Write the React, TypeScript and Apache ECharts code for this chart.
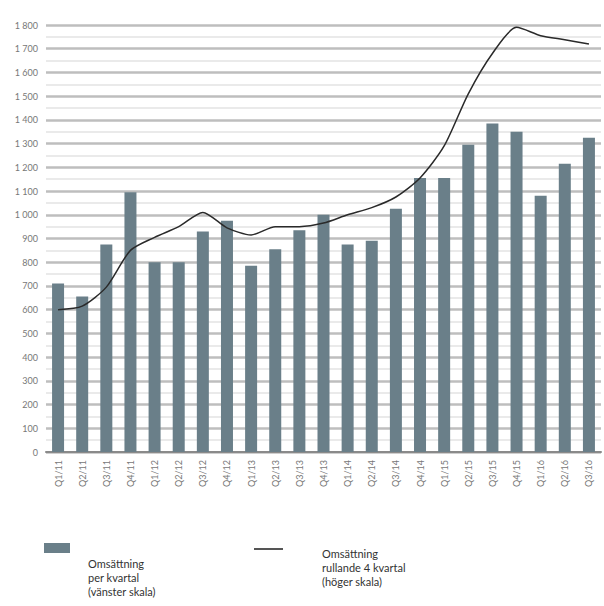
import React, { useEffect, useRef } from "react";
import * as echarts from "echarts";

const categories = [
  "Q1/11", "Q2/11", "Q3/11", "Q4/11",
  "Q1/12", "Q2/12", "Q3/12", "Q4/12",
  "Q1/13", "Q2/13", "Q3/13", "Q4/13",
  "Q1/14", "Q2/14", "Q3/14", "Q4/14",
  "Q1/15", "Q2/15", "Q3/15", "Q4/15",
  "Q1/16", "Q2/16", "Q3/16",
];

const quarterly = [
  710, 655, 875, 1095,
  800, 800, 930, 975,
  785, 855, 935, 1000,
  875, 890, 1025, 1155,
  1155, 1295, 1385, 1350,
  1080, 1215, 1325,
];

const rolling = [
  600, 615, 695, 850,
  905, 950, 1010, 945,
  915, 950, 950, 965,
  1000, 1030, 1075, 1155,
  1290, 1510, 1680, 1790,
  1755, 1738, 1720,
];

const barLegend = ["Omsättning", "per kvartal", "(vänster skala)"];
const lineLegend = ["Omsättning", "rullande 4 kvartal", "(höger skala)"];

const fmt = (v: number) => {
  if (v >= 1000) {
    const s = String(v);
    return s.slice(0, s.length - 3) + " " + s.slice(s.length - 3);
  }
  return String(v);
};

export default function App() {
  const ref = useRef<HTMLDivElement>(null);
  useEffect(() => {
    document.body.style.margin = "0";
    if (!ref.current) return;
    const chart = echarts.init(ref.current, null, { renderer: "svg" });
    const font = "Lato, 'DejaVu Sans', sans-serif";
    chart.setOption({
      animation: false,
      backgroundColor: "#ffffff",
      grid: { left: 46, right: 3, top: 25, bottom: 154, containLabel: false },
      xAxis: {
        type: "category",
        data: categories,
        boundaryGap: true,
        axisLine: { show: true, lineStyle: { color: "#8a8a8a", width: 2 } },
        axisTick: { show: false },
        axisLabel: {
          rotate: 90,
          margin: 8,
          fontSize: 9,
          color: "#777777",
          fontFamily: font,
          interval: 0,
        },
      },
      yAxis: [
        {
          type: "value",
          min: 0,
          max: 1800,
          interval: 100,
          axisLine: { show: false },
          axisTick: { show: false },
          axisLabel: {
            fontSize: 9,
            color: "#777777",
            fontFamily: font,
            margin: 8,
            formatter: (v: number) => fmt(v),
          },
          splitLine: { show: true, lineStyle: { color: "#bebebe", width: 2.5 } },
          minorTick: { show: false, splitNumber: 2 },
          minorSplitLine: { show: true, lineStyle: { color: "#eaeaea", width: 2 } },
        },
        {
          type: "value",
          min: 0,
          max: 1800,
          interval: 100,
          show: false,
          splitLine: { show: false },
        },
      ],
      series: [
        {
          name: "Omsättning per kvartal (vänster skala)",
          type: "bar",
          data: quarterly,
          yAxisIndex: 0,
          barWidth: 12,
          itemStyle: { color: "#6a7f89" },
        },
        {
          name: "Omsättning rullande 4 kvartal (höger skala)",
          type: "line",
          data: rolling,
          yAxisIndex: 1,
          smooth: 0.25,
          showSymbol: false,
          symbol: "none",
          lineStyle: { color: "#2a2a2a", width: 1.5 },
          z: 5,
        },
      ],
      graphic: [
        { type: "rect", shape: { x: 44, y: 543, width: 26, height: 10 }, style: { fill: "#6a7f89" } },
        { type: "line", shape: { x1: 254, y1: 549, x2: 283, y2: 549 }, style: { stroke: "#555555", lineWidth: 2 } },
        {
          type: "text",
          x: 88,
          y: 556,
          style: {
            text: barLegend.join("\n"),
            fontSize: 11,
            lineHeight: 14,
            fill: "#333333",
            fontFamily: font,
          },
        },
        {
          type: "text",
          x: 322,
          y: 546,
          style: {
            text: lineLegend.join("\n"),
            fontSize: 11,
            lineHeight: 14,
            fill: "#333333",
            fontFamily: font,
          },
        },
      ],
    });
    return () => chart.dispose();
  }, []);
  return <div ref={ref} style={{ width: 604, height: 606 }} />;
}
